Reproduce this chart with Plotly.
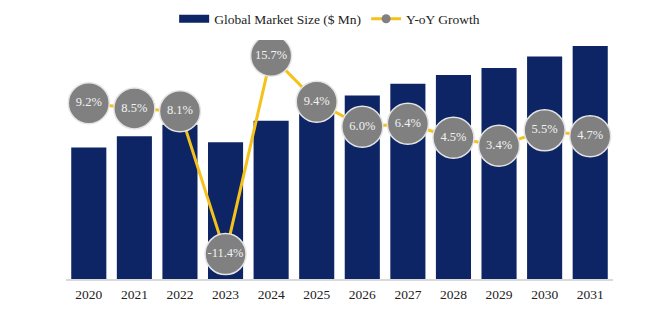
import plotly.graph_objects as go

years = ["2020", "2021", "2022", "2023", "2024", "2025", "2026", "2027", "2028", "2029", "2030", "2031"]
market_size = [1310, 1421, 1536, 1361, 1575, 1723, 1826, 1943, 2031, 2100, 2215, 2319]
growth = [9.2, 8.5, 8.1, -11.4, 15.7, 9.4, 6.0, 6.4, 4.5, 3.4, 5.5, 4.7]
growth_labels = [f"{g:.1f}%" for g in growth]

NAVY = "#0d2465"
GOLD = "#F5C21B"
SERIF = "Liberation Serif, Times New Roman, serif"

fig = go.Figure()

fig.add_trace(go.Bar(
    x=years, y=market_size, marker=dict(color=NAVY, line=dict(width=0)),
    showlegend=False, yaxis="y", hoverinfo="skip"))

fig.add_trace(go.Scatter(
    x=years, y=growth, yaxis="y2", mode="lines+markers+text",
    line=dict(color=GOLD, width=3),
    marker=dict(size=41, color="#808080", line=dict(color="#e4e4e4", width=1.5)),
    text=growth_labels, textposition="middle center",
    textfont=dict(family=SERIF, size=12.5, color="#f2f2f2"),
    showlegend=False, hoverinfo="skip"))

# legend-only entries
fig.add_trace(go.Scatter(
    x=[None], y=[None], mode="lines", line=dict(color=NAVY, width=8),
    name="Global Market Size ($ Mn)"))
fig.add_trace(go.Scatter(
    x=[None], y=[None], mode="lines+markers", line=dict(color=GOLD, width=3),
    marker=dict(size=9, color="#808080"), name="Y-oY Growth"))

fig.update_layout(
    width=649, height=322,
    margin=dict(l=66, r=36, t=40, b=43, autoexpand=False),
    paper_bgcolor="white", plot_bgcolor="white",
    bargap=0.23,
    font=dict(family=SERIF, color="#222222"),
    legend=dict(orientation="h", x=0.482, xanchor="center", y=1.088, yanchor="middle",
                font=dict(family=SERIF, size=13.5, color="#222222"),
                itemwidth=30, tracegroupgap=0, bgcolor="rgba(0,0,0,0)"),
    xaxis=dict(type="category", showgrid=False, showline=True, linecolor="#d9d9d9",
               linewidth=1.5, ticks="", tickfont=dict(family=SERIF, size=13.5, color="#222222"),
               ticklabelstandoff=2, range=[-0.5, 11.5], zeroline=False),
    yaxis=dict(range=[0, 2379], visible=False, showgrid=False, zeroline=False),
    yaxis2=dict(range=[-14.8, 17.84], overlaying="y", visible=False, showgrid=False,
                zeroline=False),
)

fig.write_html("out.html")
